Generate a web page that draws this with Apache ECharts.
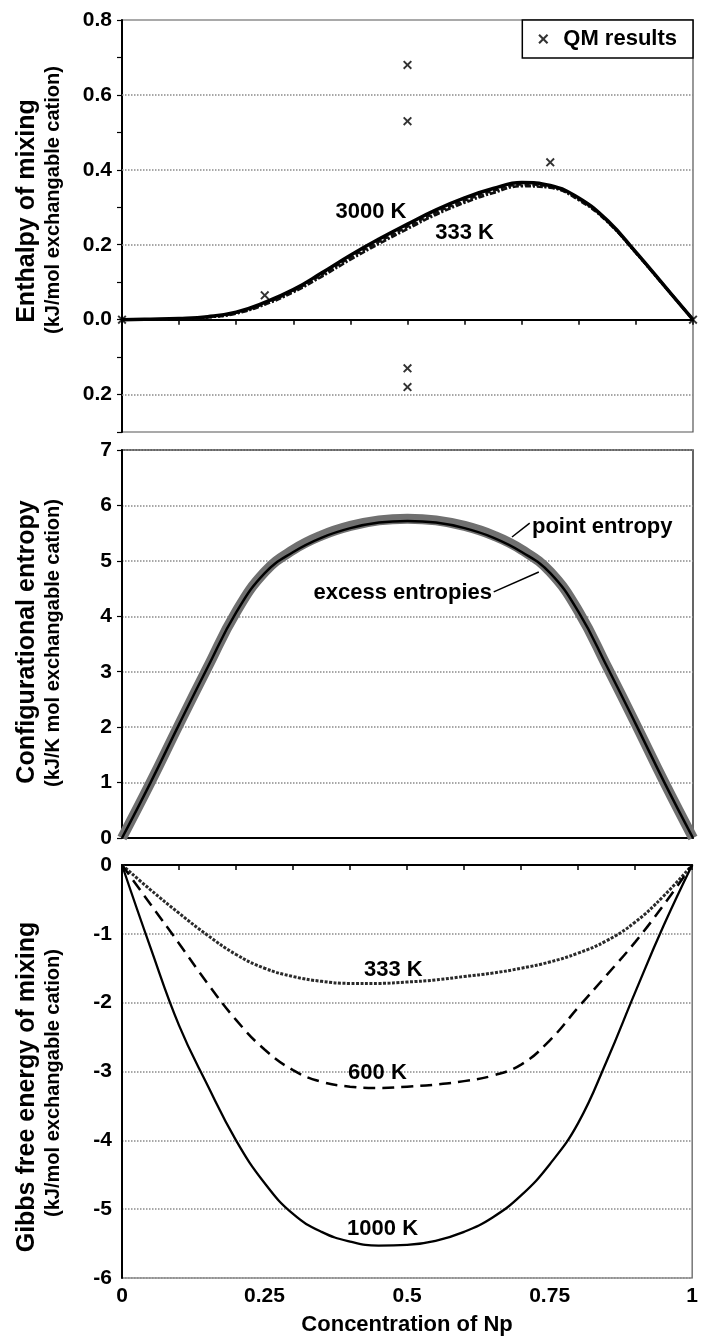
<!DOCTYPE html>
<html>
<head>
<meta charset="utf-8">
<script src="https://cdn.jsdelivr.net/npm/echarts@6/dist/echarts.min.js"></script>
<style>
  html, body { margin: 0; padding: 0; background: #fff; }
  #chart { width: 701px; height: 1339px; }
</style>
</head>
<body>
<div id="chart"></div>
<script>
// Concentration of Np (mole fraction) sampled along every curve
const conc = [0, 0.05, 0.1, 0.15, 0.2, 0.25, 0.3, 0.35, 0.4, 0.45, 0.5,
              0.55, 0.6, 0.65, 0.7, 0.75, 0.8, 0.85, 0.9, 0.95, 1];

// Enthalpy of mixing, kJ/mol exchangable cation
const enthalpy3000 = [0, 0.001, 0.003, 0.008, 0.02, 0.046, 0.08, 0.125, 0.172, 0.215, 0.255,
                      0.293, 0.325, 0.35, 0.366, 0.358, 0.325, 0.265, 0.18, 0.09, 0];
const enthalpy1000 = [0, 0.001, 0.002, 0.007, 0.018, 0.043, 0.077, 0.12, 0.166, 0.208, 0.248,
                      0.286, 0.318, 0.344, 0.361, 0.355, 0.322, 0.263, 0.179, 0.09, 0];
const enthalpy600  = [0, 0.001, 0.002, 0.006, 0.017, 0.041, 0.075, 0.117, 0.163, 0.205, 0.245,
                      0.283, 0.315, 0.341, 0.358, 0.353, 0.32, 0.262, 0.178, 0.089, 0];
const enthalpy333  = [0, 0.001, 0.002, 0.006, 0.016, 0.04, 0.073, 0.115, 0.16, 0.202, 0.242,
                      0.28, 0.312, 0.338, 0.356, 0.352, 0.319, 0.261, 0.178, 0.089, 0];

// Quantum-mechanical reference points
const qmConc     = [0, 0.25, 0.5, 0.5, 0.5, 0.5, 0.75, 1];
const qmEnthalpy = [0, 0.065, 0.68, 0.53, -0.13, -0.18, 0.42, 0];

// Dotted reference levels on the enthalpy panel
const enthalpyGridLevels = [0.6, 0.4, 0.2, -0.2];

// Configurational entropy
const pointEntropy  = [0, 1.0, 2.05, 3.08, 4.08, 4.8, 5.2, 5.46, 5.63, 5.73, 5.76,
                       5.73, 5.63, 5.46, 5.2, 4.8, 4.08, 3.08, 2.05, 1.0, 0];
const excessEntropy = [0, 1.0, 2.05, 3.08, 4.07, 4.78, 5.16, 5.42, 5.59, 5.69, 5.72,
                       5.69, 5.59, 5.42, 5.16, 4.78, 4.07, 3.08, 2.05, 1.0, 0];

// Gibbs free energy of mixing
const gibbs333  = [0, -0.36, -0.7, -1.02, -1.3, -1.5, -1.62, -1.69, -1.72, -1.72, -1.7,
                   -1.67, -1.62, -1.57, -1.5, -1.41, -1.28, -1.1, -0.83, -0.45, 0];
const gibbs600  = [0, -0.57, -1.14, -1.72, -2.25, -2.68, -2.98, -3.15, -3.22, -3.24, -3.22,
                   -3.19, -3.14, -3.06, -2.9, -2.55, -2.07, -1.6, -1.12, -0.58, 0];
const gibbs1000 = [0, -1.2, -2.33, -3.2, -4.0, -4.62, -5.07, -5.33, -5.47, -5.53, -5.52,
                   -5.46, -5.33, -5.12, -4.8, -4.35, -3.75, -2.85, -1.85, -0.88, 0];

const FONT = 'Liberation Sans';
const pairs = (ys) => conc.map((x, i) => [x, ys[i]]);
const crossPath = 'path://M0,1.5L1.5,0L5,3.5L8.5,0L10,1.5L6.5,5L10,8.5L8.5,10L5,6.5L1.5,10L0,8.5L3.5,5Z';

const tickLabel = { fontFamily: FONT, fontWeight: 'bold', fontSize: 21, color: '#000' };
const dotted = { color: '#8a8a8a', type: 'dotted', width: 1.5 };
const blackAxis = { show: true, lineStyle: { color: '#000', width: 2 } };
const SMOOTH = 0.45;

const chart = echarts.init(document.getElementById('chart'), null, { renderer: 'canvas' });

const curve = (name, xi, yi, data, lineStyle, z) => ({
  name, type: 'line', xAxisIndex: xi, yAxisIndex: yi, data: pairs(data),
  smooth: SMOOTH, showSymbol: false, z: z || 3, lineStyle
});

const option = {
  animation: false,
  backgroundColor: '#fff',
  grid: [
    { left: 122, right: 8, top: 20, height: 412, show: true, borderColor: '#555', borderWidth: 1.2 },
    { left: 122, right: 8, top: 450, height: 388, show: true, borderColor: '#333', borderWidth: 1.5 },
    { left: 122, right: 8, top: 865, height: 413, show: true, borderColor: '#555', borderWidth: 1.2 }
  ],
  legend: {
    data: ['QM results'],
    right: 8, top: 20,
    icon: crossPath, itemWidth: 10, itemHeight: 10,
    borderColor: '#000', borderWidth: 1.5, borderRadius: 0,
    backgroundColor: '#fff',
    padding: [8, 16, 8, 16],
    selectedMode: false,
    textStyle: { fontFamily: FONT, fontWeight: 'bold', fontSize: 22, color: '#000', padding: [0, 0, 0, 10] }
  },
  xAxis: [
    { gridIndex: 0, type: 'value', min: 0, max: 1, interval: 0.1, position: 'bottom',
      axisLine: { show: true, onZero: true, lineStyle: { color: '#000', width: 2 } },
      axisTick: { show: true, length: 5, lineStyle: { color: '#000', width: 1.5 } },
      axisLabel: { show: false }, splitLine: { show: false } },
    { gridIndex: 1, type: 'value', min: 0, max: 1, interval: 0.1, position: 'bottom',
      axisLine: { show: true, lineStyle: { color: '#000', width: 2 } },
      axisTick: { show: false }, axisLabel: { show: false }, splitLine: { show: false } },
    { gridIndex: 2, type: 'value', min: 0, max: 1, interval: 0.1, position: 'top',
      axisLine: { show: true, onZero: true, lineStyle: { color: '#000', width: 2 } },
      axisTick: { show: true, inside: true, length: 5, lineStyle: { color: '#000', width: 1.5 } },
      axisLabel: { show: false }, splitLine: { show: false } },
    { gridIndex: 2, type: 'value', min: 0, max: 1, interval: 0.25, position: 'bottom',
      axisLine: { show: false, onZero: false },
      axisTick: { show: false }, splitLine: { show: false },
      axisLabel: Object.assign({ margin: 8 }, tickLabel),
      name: 'Concentration of Np', nameLocation: 'middle', nameGap: 36,
      nameTextStyle: { fontFamily: FONT, fontWeight: 'bold', fontSize: 22, color: '#000' } }
  ],
  yAxis: [
    { gridIndex: 0, type: 'value', min: -0.3, max: 0.8, interval: 0.1,
      axisLine: Object.assign({ onZero: false }, blackAxis),
      axisTick: { show: true, length: 5, lineStyle: { color: '#000', width: 1.2 } },
      axisLabel: Object.assign({
        margin: 10,
        formatter: (v) => (Math.round(v * 10) % 2 === 0 ? Math.abs(v).toFixed(1) : '')
      }, tickLabel),
      splitLine: { show: false } },
    { gridIndex: 1, type: 'value', min: 0, max: 7, interval: 1,
      axisLine: Object.assign({ onZero: false }, blackAxis),
      axisTick: { show: true, length: 5, lineStyle: { color: '#000', width: 1.2 } },
      axisLabel: Object.assign({ margin: 10 }, tickLabel),
      splitLine: { show: true, lineStyle: dotted } },
    { gridIndex: 2, type: 'value', min: -6, max: 0, interval: 1,
      axisLine: Object.assign({ onZero: false }, blackAxis),
      axisTick: { show: false },
      axisLabel: Object.assign({ margin: 10 }, tickLabel),
      splitLine: { show: true, lineStyle: dotted } }
  ],
  series: [
    curve('333 K', 0, 0, enthalpy333, { color: '#111', width: 2.5, type: [6, 2, 2, 2] }),
    curve('600 K', 0, 0, enthalpy600, { color: '#111', width: 2.5, type: [2, 2] }),
    curve('1000 K', 0, 0, enthalpy1000, { color: '#111', width: 2.5, type: [5, 3] }),
    curve('3000 K', 0, 0, enthalpy3000, { color: '#000', width: 3.5 }, 4),
    { name: 'QM results', type: 'scatter', xAxisIndex: 0, yAxisIndex: 0,
      data: qmConc.map((x, i) => [x, qmEnthalpy[i]]),
      symbol: crossPath, symbolSize: 9, itemStyle: { color: '#000' }, z: 6,
      markLine: {
        silent: true, symbol: 'none', label: { show: false },
        lineStyle: dotted, z: 1,
        data: enthalpyGridLevels.map((v) => ({ yAxis: v }))
      } },

    curve('point entropy', 1, 1, pointEntropy, { color: '#707070', width: 10 }),
    curve('excess entropies', 1, 1, excessEntropy, { color: '#000', width: 2.5 }, 4),

    curve('333 K', 3, 2, gibbs333, { color: '#2a2a2a', width: 3, type: [3, 1.5] }),
    curve('600 K', 3, 2, gibbs600, { color: '#000', width: 2.5, type: [12, 7] }),
    curve('1000 K', 3, 2, gibbs1000, { color: '#000', width: 2.3 })
  ]
};

chart.setOption(option);

// Curve labels, annotations and the two-line axis titles
const px = (g, x, y) => chart.convertToPixel({ gridIndex: g }, [x, y]);
const label = (g, x, y, text, align) => {
  const p = px(g, x, y);
  return { type: 'text', x: p[0], y: p[1], z: 20,
    style: { text, fontFamily: FONT, fontWeight: 'bold', fontSize: 22, fill: '#000',
             align: align || 'center', verticalAlign: 'middle' } };
};
const leader = (g, a, b) => {
  const p1 = px(g, a[0], a[1]), p2 = px(g, b[0], b[1]);
  return { type: 'line', z: 20, shape: { x1: p1[0], y1: p1[1], x2: p2[0], y2: p2[1] },
           style: { stroke: '#000', lineWidth: 1.5 } };
};
const title = (y, main, subY, sub) => ([
  { type: 'text', x: 27, y: y, rotation: Math.PI / 2, z: 20,
    style: { text: main, fontFamily: FONT, fontWeight: 'bold', fontSize: 25, fill: '#000',
             align: 'center', verticalAlign: 'middle' } },
  { type: 'text', x: 53, y: subY, rotation: Math.PI / 2, z: 20,
    style: { text: sub, fontFamily: FONT, fontWeight: 'bold', fontSize: 20, fill: '#000',
             align: 'center', verticalAlign: 'middle' } }
]);

chart.setOption({
  graphic: [
    label(0, 0.436, 0.287, '3000 K'),
    label(0, 0.6, 0.231, '333 K'),
    label(1, 0.718, 5.61, 'point entropy', 'left'),
    leader(1, [0.683, 5.43], [0.714, 5.68]),
    label(1, 0.648, 4.42, 'excess entropies', 'right'),
    leader(1, [0.651, 4.44], [0.73, 4.8]),
    label(2, 0.476, -1.53, '333 K'),
    label(2, 0.448, -3.02, '600 K'),
    label(2, 0.457, -5.28, '1000 K')
  ]
    .concat(title(211, 'Enthalpy of mixing', 200, '(kJ/mol exchangable cation)'))
    .concat(title(642, 'Configurational entropy', 643, '(kJ/K mol exchangable cation)'))
    .concat(title(1087, 'Gibbs free energy of mixing', 1083, '(kJ/mol exchangable cation)'))
});
</script>
</body>
</html>
